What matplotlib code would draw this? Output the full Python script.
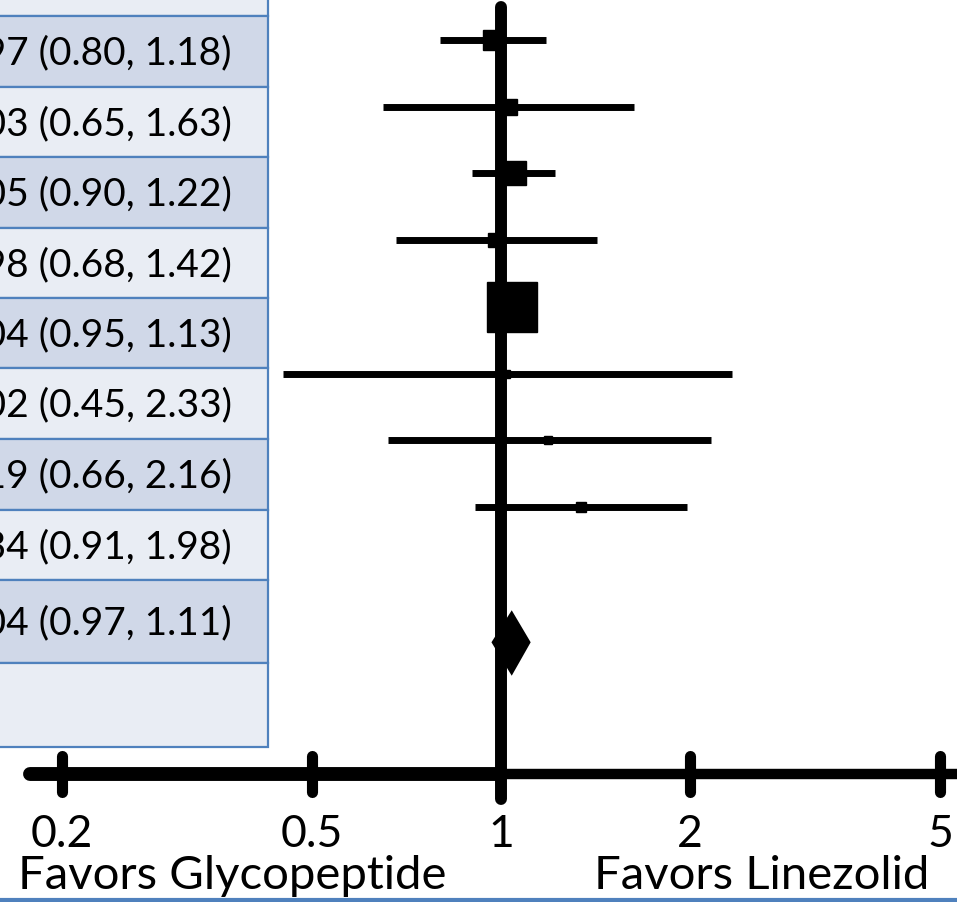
import numpy as np
import matplotlib
matplotlib.use("Agg")
import matplotlib.pyplot as plt
from matplotlib.patches import Rectangle, Polygon

plt.rcParams['font.family'] = ['Lato', 'DejaVu Sans']

# --- data ---
estimates = [0.97, 1.03, 1.05, 0.98, 1.04, 1.02, 1.19, 1.34]
lower_ci = [0.80, 0.65, 0.90, 0.68, 0.95, 0.45, 0.66, 0.91]
upper_ci = [1.18, 1.63, 1.22, 1.42, 1.13, 2.33, 2.16, 1.98]
weights = [9.7, 5.5, 14.0, 4.8, 60.6, 1.6, 1.6, 2.4]   # % weight, drives box size
pooled = (1.04, 0.97, 1.11)
tick_values = [0.2, 0.5, 1, 2, 5]
tick_labels = ["0.2", "0.5", "1", "2", "5"]
left_label = "Favors Glycopeptide"
right_label = "Favors Linezolid"

# --- layout (pixels of the 957x903 picture) ---
W, H = 957, 903
fig = plt.figure(figsize=(W / 100, H / 100), dpi=100)

# table panel in pixel coordinates
tab = fig.add_axes([0, 0, 1, 1])
tab.set_xlim(0, W)
tab.set_ylim(H, 0)
tab.axis("off")

row_edges = [-10, 17, 88, 158, 229, 299, 369, 440, 511, 581, 664, 748]
light, dark, border = "#E9EDF4", "#D0D8E8", "#4F81BD"
table_right = 268

# the table is cropped at the left edge, as in the reference
row_text = [""] + [f"{e:.2f} ({l:.2f}, {u:.2f})" for e, l, u in zip(estimates, lower_ci, upper_ci)]
row_text += ["{:.2f} ({:.2f}, {:.2f})".format(*pooled), ""]

for k in range(len(row_edges) - 1):
    top, bot = row_edges[k], row_edges[k + 1]
    tab.add_patch(Rectangle((-10, top), table_right + 10, bot - top,
                            facecolor=dark if k % 2 else light,
                            edgecolor=border, linewidth=1.6, zorder=1))
    if row_text[k]:
        tab.text(232, (top + bot) / 2 + 1, row_text[k], ha="right", va="center",
                 fontsize=28, color="black", zorder=2)

# blue rule at the very bottom
tab.plot([0, W], [901, 901], color=border, lw=3, zorder=1)

# forest panel: log x, row index on y
ax = fig.add_axes([0, 0, 1, 1], facecolor="none")
ax.set_xscale("log")
ln_per_px = (np.log(5) - np.log(0.2)) / (940 - 62)
ax.set_xlim(np.exp(np.log(0.2) - 62 * ln_per_px), np.exp(np.log(5) + (W - 940) * ln_per_px))
row_px0, row_step = 41, 66.7
ax.set_ylim((H - row_px0) / row_step, -row_px0 / row_step)
ax.axis("off")

y_rows = np.arange(len(estimates))
y_pool = len(estimates) + 1
y_axis = len(estimates) + 3

# CI lines
ax.hlines(y_rows, lower_ci, upper_ci, color="black", lw=5, zorder=3)
# boxes sized by weight
sides = 50 * np.sqrt(np.array(weights) / max(weights)) * 0.72
for x, y, s in zip(estimates, y_rows, sides):
    ax.plot(x, y, marker="s", markersize=s, color="black", zorder=4)

# pooled diamond
pe, pl, pu = pooled
ax.add_patch(Polygon([(pl, y_pool + 0.03), (pe, y_pool - 0.42), (pu, y_pool + 0.03), (pe, y_pool + 0.5)],
                     closed=True, facecolor="black", edgecolor="black", lw=1.5, zorder=4))

# line of no effect
ax.plot([1, 1], [-0.5, y_axis + 0.38], color="black", lw=8.6, solid_capstyle="round", zorder=5)

# x axis drawn as a thick bar with tick marks
ax.plot([0.178, 1], [y_axis, y_axis], color="black", lw=10, solid_capstyle="round", zorder=5)
ax.plot([1, 6], [y_axis, y_axis], color="black", lw=7.5, zorder=5)
for tv, tl in zip(tick_values, tick_labels):
    if tv != 1:
        ax.plot([tv, tv], [y_axis - 0.27, y_axis + 0.27], color="black", lw=8,
                solid_capstyle="round", zorder=6)
    ax.text(tv, y_axis + 0.9, tl, ha="center", va="center", fontsize=32, color="black")

fig.text(18 / W, 1 - 889 / H, left_label, ha="left", va="baseline", fontsize=34)
fig.text(594 / W, 1 - 889 / H, right_label, ha="left", va="baseline", fontsize=34)

fig.savefig("out.png", dpi=100)
